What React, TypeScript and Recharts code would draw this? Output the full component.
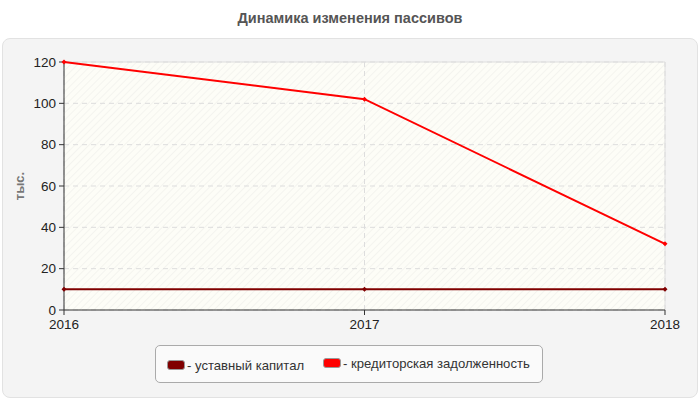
import { LineChart, Line, XAxis, YAxis, CartesianGrid, ReferenceLine } from 'recharts'

const years = ['2016', '2017', '2018']
const ustavnyKapital = [10, 10, 10]
const kreditorskaya = [120, 102, 32]
const yTicks = [0, 20, 40, 60, 80, 100, 120]

const seriesNames = ['уставный капитал', 'кредиторская задолженность']
const seriesColors = ['#800000', '#ff0000']

const data = years.map((y, i) => ({
  year: y,
  ustav: ustavnyKapital[i],
  kredit: kreditorskaya[i],
}))

const font = '"Liberation Sans", Arial, sans-serif'

function Dot(props: any) {
  const { cx, cy, stroke } = props
  if (cx == null || cy == null) return null
  return <path d={`M${cx - 2.5},${cy}L${cx},${cy - 2.5}L${cx + 2.5},${cy}L${cx},${cy + 2.5}Z`} fill={stroke} />
}

export default function App() {
  return (
    <div style={{ position: 'absolute', left: 0, top: 0, width: 700, height: 400, background: '#fff', fontFamily: font }}>
      <div style={{ position: 'absolute', left: 0, top: 10, width: 700, textAlign: 'center', fontSize: 14.5, fontWeight: 'bold', color: '#555' }}>
        Динамика изменения пассивов
      </div>
      <div style={{ position: 'absolute', left: 2, top: 38, width: 694, height: 358, background: '#f4f4f4', border: '1px solid #e2e2e2', borderRadius: 8 }} />
      <div style={{ position: 'absolute', left: 0, top: 0 }}>
        <LineChart width={700} height={400} data={data} margin={{ top: 62, right: 35, bottom: 60, left: 20 }}>
          <defs>
            <pattern id='hatch' width='5' height='5' patternUnits='userSpaceOnUse' patternTransform='rotate(45)'>
              <rect width='5' height='5' fill='#fdfdf7' />
              <line x1='0' y1='0' x2='0' y2='5' stroke='#eeeeea' strokeWidth='1.2' />
            </pattern>
          </defs>
          <CartesianGrid stroke='#dddddd' strokeDasharray='5 4' fill='url(#hatch)' fillOpacity={1} />
          <XAxis
            dataKey='year'
            stroke='#333'
            tick={{ fill: '#222', fontSize: 13.5, fontFamily: font }}
            tickSize={5}
            tickMargin={4}
            height={30}
            padding={{ left: 0, right: 0 }}
          />
          <YAxis
            domain={[0, 120]}
            ticks={yTicks}
            stroke='#333'
            tick={{ fill: '#222', fontSize: 13.5, fontFamily: font }}
            tickSize={5}
            tickMargin={3}
            width={44}
            interval={0}
            label={{ value: 'тыс.', angle: -90, position: 'insideLeft', offset: -1, style: { fill: '#777', fontSize: 13, fontWeight: 'bold', fontFamily: font, textAnchor: 'middle' } }}
          />
          <ReferenceLine y={120} stroke='#dedede' strokeWidth={1} />
          <ReferenceLine x='2018' stroke='#dedede' strokeWidth={1} />
          <Line dataKey='ustav' name={seriesNames[0]} stroke={seriesColors[0]} strokeWidth={2} dot={<Dot />} activeDot={false} isAnimationActive={false} />
          <Line dataKey='kredit' name={seriesNames[1]} stroke={seriesColors[1]} strokeWidth={2} dot={<Dot />} activeDot={false} isAnimationActive={false} />
        </LineChart>
      </div>
      <div style={{ position: 'absolute', left: 155, top: 345, width: 388, height: 38, background: '#fafafa', border: '1px solid #aaa', borderRadius: 5, display: 'flex', alignItems: 'center', paddingLeft: 11, boxSizing: 'border-box', fontSize: 13.1, color: '#333', whiteSpace: 'nowrap' }}>
        {seriesNames.map((n, i) => (
          <div key={n} style={{ display: 'flex', alignItems: 'center', flexShrink: 0, marginRight: 19, marginTop: i === 0 ? 2 : -2 }}>
            <span style={{ display: 'inline-block', width: 16, height: 8, background: seriesColors[i], border: '1px solid #999', borderRadius: 3, marginRight: 2 }} />
            <span>- {n}</span>
          </div>
        ))}
      </div>
    </div>
  )
}
